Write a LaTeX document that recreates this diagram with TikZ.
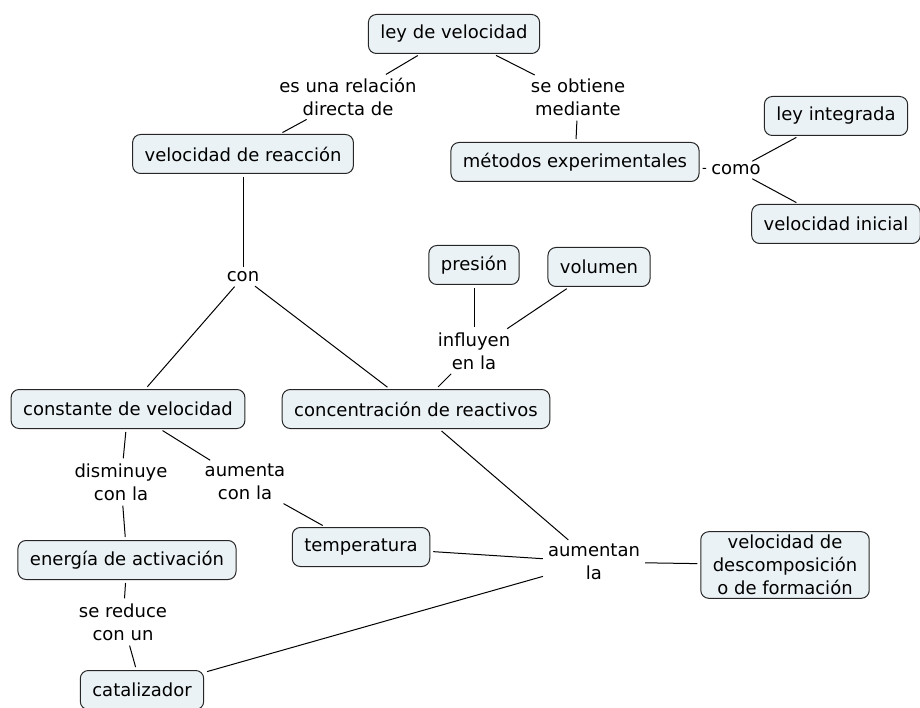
\documentclass[tikz,border=0pt]{standalone}
\usepackage{fontspec}
\setmainfont{DejaVu Sans}
\usepackage{tikz}
\pgfdeclarelayer{bg}
\pgfsetlayers{bg,main}
\definecolor{conceptfill}{HTML}{EBF2F5}
\tikzset{
    concept/.style={rectangle, rounded corners=8pt, draw=black!85, fill=conceptfill,
        line width=1pt, inner xsep=12pt, minimum height=39pt, align=center,
        font=\fontsize{18}{23}\selectfont},
    link/.style={inner sep=2pt, align=center, font=\fontsize{18}{23}\selectfont}
}
\tikzset{every edge/.style={draw, line width=1pt, shorten <=3pt, shorten >=3pt}}

\begin{document}
\begin{tikzpicture}[x=1pt, y=-1pt]
    \useasboundingbox (0,0) rectangle (920,708);

    \node (ley) [concept] at (454, 34) {ley de velocidad};
    \node (vreac) [concept] at (243, 154) {velocidad de reacción};
    \node (metodos) [concept] at (575, 162) {métodos experimentales};
    \node (integ) [concept] at (836, 116) {ley integrada};
    \node (vinic) [concept] at (836, 224) {velocidad inicial};
    \node (presion) [concept] at (474, 265) {presión};
    \node (volumen) [concept] at (599, 267) {volumen};
    \node (kvel) [concept] at (128, 409) {constante de velocidad};
    \node (conc) [concept] at (416, 409) {concentración de reactivos};
    \node (ea) [concept] at (127, 560) {energía de activación};
    \node (temp) [concept] at (361, 547) {temperatura};
    \node (vform) [concept] at (785, 565) {velocidad de\\descomposición\\o de formación};
    \node (cat) [concept] at (142, 690) {catalizador};

    \node (l1) [link] at (348, 97) {es una relación\\directa de};
    \node (l2) [link] at (578, 97) {se obtiene\\mediante};
    \node (l3) [link] at (736, 170) {como};
    \node (l4) [link] at (243, 277) {con};
    \node (l5) [link] at (474, 351) {influyen\\en la};
    \node (l6) [link] at (121, 482) {disminuye\\con la};
    \node (l7) [link] at (245, 482) {aumenta\\con la};
    \node (l8) [link] at (123, 622) {se reduce\\con un};
    \node (l9) [link] at (594, 562) {aumentan\\la};

    \begin{pgfonlayer}{bg}
        \draw (ley) edge (l1);
        \draw (l1) edge (vreac);
        \draw (ley) edge (l2);
        \draw (l2) edge (metodos);
        \draw (metodos) edge (l3);
        \draw (l3) edge (integ);
        \draw (l3) edge (vinic);

        \draw (vreac) edge (l4);
        \draw (l4) edge (kvel);
        \draw (l4) edge (conc);

        \draw (presion) edge (l5);
        \draw (volumen) edge (l5);
        \draw (l5) edge (conc);

        \draw (kvel) edge (l6);
        \draw (l6) edge (ea);
        \draw (kvel) edge (l7);
        \draw (l7) edge (temp);
        \draw (ea) edge (l8);
        \draw (l8) edge (cat);

        \draw (conc) edge (l9);
        \draw (temp) edge (l9);
        \draw (cat) edge (l9);
        \draw (l9) edge (vform);
    \end{pgfonlayer}
\end{tikzpicture}
\end{document}
